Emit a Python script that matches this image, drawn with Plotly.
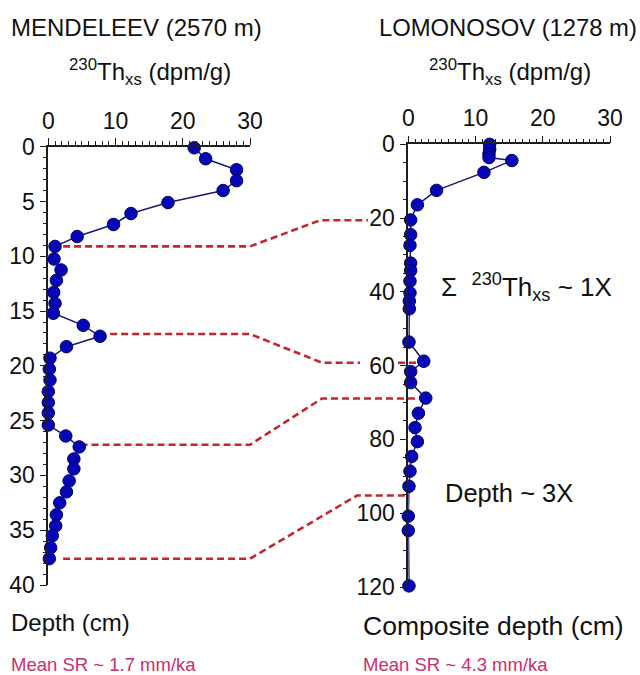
import plotly.graph_objects as go

# ---------------- data ----------------
left_depth = [0.1, 1.1, 2.1, 3.1, 4.0, 5.1, 6.1, 7.1, 8.2, 9.1, 10.25, 11.25, 12.2, 13.3,
              14.3, 15.2, 16.3, 17.3, 18.25, 19.3, 20.3, 21.3, 22.35, 23.35, 24.3, 25.4,
              26.4, 27.4, 28.5, 29.4, 30.5, 31.5, 32.5, 33.6, 34.6, 35.5, 36.6, 37.6]
left_th = [21.7, 23.4, 28.0, 28.0, 26.0, 17.8, 12.3, 9.7, 4.3, 1.0, 0.85, 1.9, 1.2, 0.8,
           1.0, 0.75, 5.2, 7.7, 2.7, 0.25, 0.15, 0.25, 0.0, 0.0, 0.0, 0.0,
           2.6, 4.6, 3.8, 3.8, 3.1, 2.7, 1.7, 1.2, 1.1, 0.6, 0.35, 0.15]

right_depth = [0.0, 1.35, 2.6, 3.6, 4.4, 7.6, 12.5, 16.4, 20.5, 24.5, 27.4, 32.2, 34.2,
               37.1, 40.3, 42.5, 44.6, 53.6, 58.8, 61.6, 64.6, 68.8, 72.9, 76.8, 80.6,
               84.6, 88.6, 92.7, 100.8, 104.7, 119.7]
right_th = [12.1, 12.1, 12.0, 12.0, 15.4, 11.25, 4.2, 1.35, 0.35, 0.35, 0.25, 0.35, 0.35,
            0.25, 0.25, 0.15, 0.15, 0.1, 2.3, 0.35, 0.35, 2.6, 1.5, 1.0, 1.35,
            0.5, 0.25, 0.1, 0.0, 0.0, 0.1]

x_tick_vals = [0, 10, 20, 30]

tie_left = [9.1, 17.1, 27.2, 37.6]      # depth (cm) in Mendeleev core
tie_right = [20.6, 59.2, 68.9, 95.2]    # composite depth (cm) in Lomonosov core

# ---------------- layout geometry ----------------
W, H = 640, 675
LX = (48.3 / W, 250 / W)
LY = (1 - 585 / H, 1 - 146.7 / H)
RX = (408.3 / W, 610 / W)
RY = (1 - 587 / H, 1 - 144.3 / H)
L_XMAX, L_YMAX, R_XMAX, R_YMAX = 30, 40, 30, 120


def lx(v):
    return LX[0] + v / L_XMAX * (LX[1] - LX[0])


def ly(d):
    return LY[1] - d / L_YMAX * (LY[1] - LY[0])


def ry(d):
    return RY[1] - d / R_YMAX * (RY[1] - RY[0])


def px(p):
    return p / W


FONT = "Liberation Sans, Arial, Helvetica, sans-serif"
AX = "#1e1e1e"
BLUE = "#0606b6"
NAVY = "#1a1a70"
RED = "#c4262e"
PINK = "#c8306e"

fig = go.Figure()

marker = dict(size=12.5, color=BLUE, line=dict(color="#00006a", width=1))
fig.add_trace(go.Scatter(x=left_th, y=left_depth, xaxis="x", yaxis="y",
                         mode="lines+markers", line=dict(color=NAVY, width=1.5),
                         marker=marker, cliponaxis=False, showlegend=False))
fig.add_trace(go.Scatter(x=right_th, y=right_depth, xaxis="x2", yaxis="y2",
                         mode="lines+markers", line=dict(color=NAVY, width=1.5),
                         marker=marker, cliponaxis=False, showlegend=False))

common_x = dict(side="top", showline=True, linecolor=AX, linewidth=1.6,
                ticks="outside", tickvals=x_tick_vals,
                ticklen=7, tickwidth=1.4, tickcolor=AX, automargin=False,
                minor=dict(dtick=1, ticklen=4, tickwidth=1.2, tickcolor=AX, ticks="outside"),
                showgrid=False, zeroline=False,
                tickfont=dict(family=FONT, size=23, color="#111"))
common_y = dict(showline=True, linecolor=AX, linewidth=1.6, ticks="outside",
                ticklen=7, tickwidth=1.4, tickcolor=AX, showgrid=False, zeroline=False,
                automargin=False,
                tickfont=dict(family=FONT, size=23, color="#111"))

fig.update_layout(
    width=W, height=H, autosize=False,
    margin=dict(l=0, r=0, t=0, b=0, pad=0, autoexpand=False),
    paper_bgcolor="white", plot_bgcolor="rgba(0,0,0,0)",
    xaxis=dict(domain=list(LX), range=[0, L_XMAX], anchor="y", **common_x),
    yaxis=dict(domain=list(LY), range=[L_YMAX, 0], anchor="x", dtick=5,
               minor=dict(dtick=1, ticklen=4, tickwidth=1.2, tickcolor=AX, ticks="outside"),
               **common_y),
    xaxis2=dict(domain=list(RX), range=[0, R_XMAX], anchor="y2", **common_x),
    yaxis2=dict(domain=list(RY), range=[R_YMAX, 0], anchor="x2", dtick=20,
                minor=dict(dtick=5, ticklen=4, tickwidth=1.2, tickcolor=AX, ticks="outside"),
                **common_y),
)

# ---------------- tie-point connectors ----------------
left_start = [2.2, 9.2, 4.8, 2.2]
right_corner = [320, 322, 322, 357]
right_end = [368, 360, 420, 408]
dash = dict(color=RED, width=2.6, dash="7px,4px")
for i in range(4):
    yl = ly(tie_left[i])
    yr = ry(tie_right[i])
    path = (f"M {lx(left_start[i])},{yl} L {lx(L_XMAX)},{yl} "
            f"L {px(right_corner[i])},{yr} L {px(right_end[i])},{yr}")
    fig.add_shape(type="path", path=path, xref="paper", yref="paper", line=dash,
                  layer="below")
# segment of connector 2 continuing past the "60" label
fig.add_shape(type="line", xref="paper", yref="paper",
              x0=px(398), x1=px(421), y0=ry(tie_right[1]), y1=ry(tie_right[1]),
              line=dash, layer="below")

# ---------------- texts ----------------
def txt(x, y, s, size=24, color="#111", xanchor="left"):
    fig.add_annotation(x=px(x), y=1 - y / H, xref="paper", yref="paper", text=s,
                       showarrow=False, xanchor=xanchor, yanchor="middle",
                       font=dict(family=FONT, size=size, color=color))


txt(9, 28, "MENDELEEV (2570 m)")
txt(377, 27, "LOMONOSOV (1278 m)", size=23.8)
txt(150, 72, "<sup>230</sup>Th<sub>xs</sub> (dpm/g)", xanchor="center")
txt(510, 72, "<sup>230</sup>Th<sub>xs</sub> (dpm/g)", xanchor="center")
txt(9, 622, "Depth (cm)")
txt(361, 626, "Composite depth (cm)", size=26.5)
txt(9, 664, "Mean SR ~ 1.7 mm/ka", size=18.5, color=PINK)
txt(361, 664, "Mean SR ~ 4.3 mm/ka", size=18.5, color=PINK)
txt(439, 287, "Σ  <sup>230</sup>Th<sub>xs</sub> ~ 1X", size=26)
txt(443, 493, "Depth ~ 3X", size=25.5)

fig.write_html("out.html", config={"displayModeBar": False},
               post_script="document.body.style.margin='0';document.body.style.padding='0';")
